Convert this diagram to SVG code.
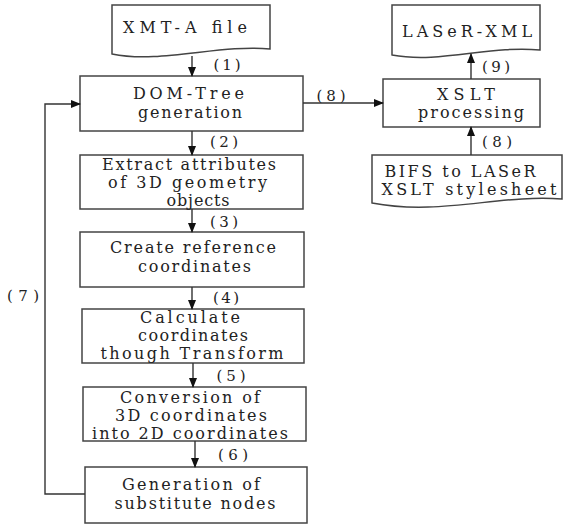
<svg xmlns="http://www.w3.org/2000/svg" width="563" height="526" viewBox="0 0 563 526">
<defs>
<marker id="ah" markerWidth="10" markerHeight="8" refX="9" refY="4" orient="auto" markerUnits="userSpaceOnUse">
<path d="M0,0 L10,4 L0,8 Z" fill="#111"/>
</marker>
<style>
.box{fill:#fff;stroke:#444;stroke-width:1.5}
.t{font-family:"DejaVu Serif","Liberation Serif",serif;font-size:16px;fill:#222;text-anchor:middle}
.l{font-family:"DejaVu Serif","Liberation Serif",serif;font-size:15px;fill:#222;text-anchor:middle}
.c{fill:none;stroke:#333;stroke-width:1.4}
</style>
</defs>
<rect width="563" height="526" fill="#fff"/>

<g id="xmt">
<path class="box" d="M112,5 H270 V49 C220,44 160,64 112,54 Z"/>
<text class="t" x="185" y="33" textLength="124">XMT-A file</text>
</g>
<g id="dom">
<rect class="box" x="80" y="76" width="223" height="55"/>
<text class="t" x="188.5" y="99" textLength="111">DOM-Tree</text>
<text class="t" x="190" y="118" textLength="104">generation</text>
</g>
<g id="extract">
<rect class="box" x="80" y="155" width="223" height="54"/>
<text class="t" x="189" y="170" textLength="174">Extract attributes</text>
<text class="t" x="187.5" y="188" textLength="159">of 3D geometry</text>
<text class="t" x="198" y="206" textLength="63">objects</text>
</g>
<g id="create">
<rect class="box" x="80" y="232" width="224" height="55"/>
<text class="t" x="193" y="253" textLength="166">Create reference</text>
<text class="t" x="194.5" y="272" textLength="113">coordinates</text>
</g>
<g id="calculate">
<rect class="box" x="82" y="309" width="222" height="54"/>
<text class="t" x="190" y="323" textLength="100">Calculate</text>
<text class="t" x="193" y="341" textLength="110">coordinates</text>
<text class="t" x="192" y="359" textLength="183">though Transform</text>
</g>
<g id="conversion">
<rect class="box" x="83" y="387" width="223" height="54"/>
<text class="t" x="190" y="403" textLength="140">Conversion of</text>
<text class="t" x="191" y="421" textLength="152">3D coordinates</text>
<text class="t" x="190" y="439" textLength="196">into 2D coordinates</text>
</g>
<g id="generation">
<rect class="box" x="85" y="467" width="222" height="56"/>
<text class="t" x="191" y="490" textLength="138">Generation of</text>
<text class="t" x="195" y="509" textLength="161">substitute nodes</text>
</g>
<g id="laser">
<path class="box" d="M392,5 H540 V50 C490,45 440,64 392,55 Z"/>
<text class="t" x="467" y="37" textLength="130">LASeR-XML</text>
</g>
<g id="xslt">
<rect class="box" x="383" y="79" width="157" height="48"/>
<text class="t" x="466" y="100" textLength="58">XSLT</text>
<text class="t" x="471" y="118" textLength="106">processing</text>
</g>
<g id="bifs">
<path class="box" d="M372,155 H562 V199 C500,194 440,216 372,203 Z"/>
<text class="t" x="460" y="177" textLength="151">BIFS to LASeR</text>
<text class="t" x="469" y="195" textLength="175">XSLT stylesheet</text>
</g>

<g id="connectors">
<line class="c" x1="192" y1="56" x2="192" y2="76" marker-end="url(#ah)"/>
<line class="c" x1="192" y1="131" x2="192" y2="155" marker-end="url(#ah)"/>
<line class="c" x1="192" y1="209" x2="192" y2="232" marker-end="url(#ah)"/>
<line class="c" x1="192" y1="287" x2="192" y2="309" marker-end="url(#ah)"/>
<line class="c" x1="193" y1="363" x2="193" y2="387" marker-end="url(#ah)"/>
<line class="c" x1="195" y1="441" x2="195" y2="467" marker-end="url(#ah)"/>
<polyline class="c" points="85,494 45,494 45,104 80,104" marker-end="url(#ah)"/>
<line class="c" x1="303" y1="103" x2="383" y2="103" marker-end="url(#ah)"/>
<line class="c" x1="471" y1="79" x2="471" y2="54" marker-end="url(#ah)"/>
<line class="c" x1="471" y1="155" x2="471" y2="127" marker-end="url(#ah)"/>
<text class="l" x="227" y="70" textLength="27">(1)</text>
<text class="l" x="224" y="147" textLength="28">(2)</text>
<text class="l" x="224" y="227" textLength="28">(3)</text>
<text class="l" x="226" y="303" textLength="26">(4)</text>
<text class="l" x="231" y="381" textLength="29">(5)</text>
<text class="l" x="233" y="460" textLength="30">(6)</text>
<text class="l" x="23" y="301" textLength="32">(7)</text>
<text class="l" x="331" y="101" textLength="29">(8)</text>
<text class="l" x="496" y="72" textLength="28">(9)</text>
<text class="l" x="497" y="147" textLength="30">(8)</text>
</g>
</svg>
